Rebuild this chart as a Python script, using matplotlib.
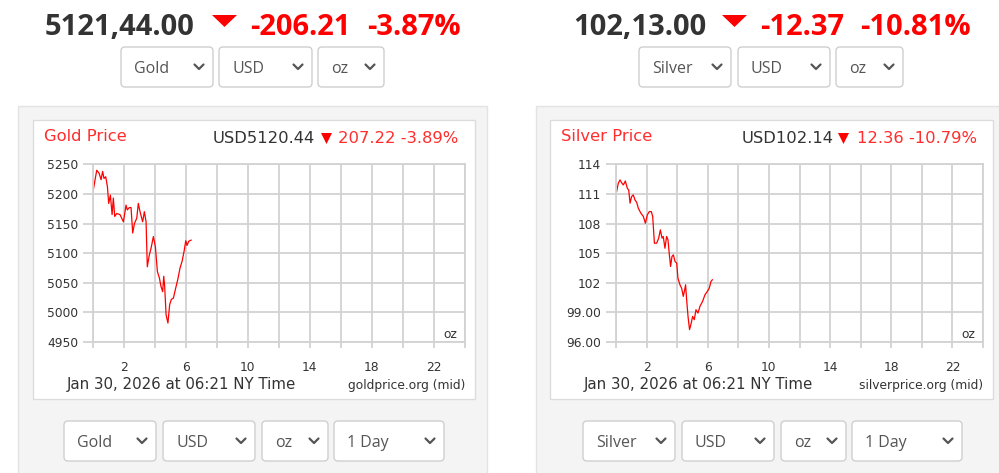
import numpy as np
import matplotlib.pyplot as plt
from matplotlib.patches import FancyBboxPatch, Rectangle, Polygon

W, H = 999, 473

# --- data (hours since midnight NY, price) ---
gold_hours = [0.04, 0.26, 0.41, 0.54, 0.64, 0.73, 0.84, 0.95, 1.03, 1.14, 1.25, 1.33,
              1.42, 1.55, 1.76, 1.98, 2.15, 2.23, 2.36, 2.47, 2.58, 2.69, 2.84, 2.94,
              3.05, 3.22, 3.33, 3.44, 3.52, 3.65, 3.76, 3.91, 4.04, 4.17, 4.30, 4.40,
              4.51, 4.58, 4.64, 4.73, 4.85, 4.96, 5.07, 5.20, 5.35, 5.48, 5.63, 5.76,
              5.89, 6.00, 6.08, 6.19, 6.34]
gold_price = [5207, 5240, 5235, 5224, 5238, 5226, 5229, 5212, 5184, 5198, 5165, 5193,
              5162, 5167, 5165, 5153, 5181, 5173, 5177, 5177, 5134, 5150, 5159, 5184,
              5170, 5153, 5170, 5153, 5077, 5097, 5108, 5128, 5111, 5069, 5058, 5044,
              5035, 5061, 5044, 4996, 4982, 5013, 5022, 5024, 5041, 5055, 5075, 5086,
              5103, 5121, 5113, 5120, 5122]

silver_hours = [0.04, 0.15, 0.26, 0.39, 0.48, 0.61, 0.74, 0.83, 0.92, 1.02, 1.13, 1.24,
                1.35, 1.46, 1.63, 1.79, 1.92, 2.05, 2.18, 2.31, 2.40, 2.51, 2.66, 2.79,
                2.90, 3.01, 3.09, 3.20, 3.31, 3.40, 3.49, 3.57, 3.66, 3.75, 3.86, 3.97,
                4.05, 4.18, 4.29, 4.40, 4.49, 4.55, 4.62, 4.71, 4.81, 4.92, 5.01, 5.12,
                5.23, 5.36, 5.49, 5.66, 5.82, 5.97, 6.10, 6.21, 6.30]
silver_price = [111.24, 112.08, 112.42, 112.08, 111.91, 112.31, 111.57, 111.40, 110.06,
                110.73, 110.90, 110.39, 110.16, 109.55, 109.04, 108.71, 108.03, 108.88,
                109.21, 109.21, 108.71, 106.01, 106.01, 106.52, 107.36, 106.52, 106.69,
                105.50, 106.69, 106.35, 104.83, 103.65, 104.66, 104.83, 104.16, 103.99,
                102.47, 101.80, 101.46, 100.62, 101.29, 101.80, 100.28, 98.59, 97.25,
                97.92, 98.59, 98.26, 99.27, 98.93, 99.61, 100.11, 100.79, 101.12, 101.46,
                102.13, 102.30]

gold_yticks = [4950, 5000, 5050, 5100, 5150, 5200, 5250]
gold_ylabels = ['4950', '5000', '5050', '5100', '5150', '5200', '5250']
silver_yticks = [96, 99, 102, 105, 108, 111, 114]
silver_ylabels = ['96.00', '99.00', '102', '105', '108', '111', '114']
hour_ticks = [0, 2, 4, 6, 8, 10, 12, 14, 16, 18, 20, 22, 24]
hour_labels = ['', '2', '', '6', '', '10', '', '14', '', '18', '', '22', '']

gold_head = ['5121,44.00', '-206.21', '-3.87%']
silver_head = ['102,13.00', '-12.37', '-10.81%']
gold_chart_head = ['Gold Price', 'USD5120.44', '207.22 -3.89%']
silver_chart_head = ['Silver Price', 'USD102.14', '12.36 -10.79%']
date_text = 'Jan 30, 2026 at 06:21 NY Time'
gold_source = 'goldprice.org (mid)'
silver_source = 'silverprice.org (mid)'
gold_top_menus = ['Gold', 'USD', 'oz']
silver_top_menus = ['Silver', 'USD', 'oz']
gold_bottom_menus = ['Gold', 'USD', 'oz', '1 Day']
silver_bottom_menus = ['Silver', 'USD', 'oz', '1 Day']

RED = '#ff0000'
RED_SOFT = '#ff2d2d'
DARK = '#333333'
GRID = '#d2d2d2'
SANS = ['Open Sans', 'DejaVu Sans']
CHART = ['DejaVu Sans']

fig = plt.figure(figsize=(W / 100, H / 100), dpi=100)
fig.patch.set_facecolor('white')
bg = fig.add_axes([0, 0, 1, 1])
bg.set_xlim(0, W)
bg.set_ylim(H, 0)
bg.axis('off')


def dropdown(x0, x1, y0, y1, label):
    box = FancyBboxPatch((x0, y0), x1 - x0, y1 - y0,
                         boxstyle='round,pad=0,rounding_size=4',
                         fc='white', ec='#cfcfcf', lw=1.0)
    bg.add_patch(box)
    cy = (y0 + y1) / 2
    bg.text(x0 + 13, cy + 6, label, fontsize=11.5, color='#555555',
            family=SANS, ha='left', va='baseline')
    cx = x1 - 14
    bg.plot([cx - 4.5, cx, cx + 4.5], [cy - 2.5, cy + 2, cy - 2.5],
            color='#555555', lw=1.6, solid_capstyle='round')


def header(xs, texts, tri):
    bg.text(xs[0], 35, texts[0], fontsize=21, fontweight='bold', color=DARK,
            family=SANS, ha='left', va='baseline')
    bg.text(xs[1], 35, texts[1], fontsize=21, fontweight='bold', color=RED,
            family=SANS, ha='left', va='baseline')
    bg.text(xs[2], 35, texts[2], fontsize=21, fontweight='bold', color=RED,
            family=SANS, ha='left', va='baseline')
    bg.add_patch(Polygon([(tri, 15), (tri + 25, 15), (tri + 12.5, 27)],
                         closed=True, fc=RED, ec='none'))


def chart(px0, px1, bx0, bx1, panel_x0, panel_x1, hours, price, yticks, ylabels,
          ylim, heads, head_xs, tri, source, src_x):
    # grey panel and white chart box
    bg.add_patch(Rectangle((panel_x0, 106), panel_x1 - panel_x0, 400,
                           fc='#f4f4f4', ec='#e3e3e3', lw=1.0))
    bg.add_patch(Rectangle((bx0, 120), bx1 - bx0, 279, fc='white',
                           ec='#dcdcdc', lw=1.0))
    bg.text(bx0 + 11, 141, heads[0], fontsize=11.8, color=RED_SOFT,
            family=CHART, ha='left', va='baseline')
    bg.text(head_xs[0], 143, heads[1], fontsize=11.8, color=DARK,
            family=CHART, ha='left', va='baseline')
    bg.add_patch(Polygon([(tri, 133), (tri + 11, 133), (tri + 5.5, 144)],
                         closed=True, fc=RED, ec='none'))
    bg.text(head_xs[1], 143, heads[2], fontsize=11.8, color=RED_SOFT,
            family=CHART, ha='left', va='baseline')
    bg.text(bx0 + 34, 388.5, date_text, fontsize=10.8, color=DARK,
            family=CHART, ha='left', va='baseline')
    bg.text(src_x, 389, source, fontsize=8.8, color=DARK,
            family=CHART, ha='right', va='baseline')
    bg.text(px1 - 8, 337.5, 'oz', fontsize=8.8, color=DARK,
            family=CHART, ha='right', va='baseline')

    top, bottom = 164.3, 342.0
    ax = fig.add_axes([px0 / W, (H - bottom) / H, (px1 - px0) / W, (bottom - top) / H])
    ax.plot(hours, price, color=RED, lw=0.9)
    ax.set_xlim(0, 24)
    ax.set_ylim(*ylim)
    ax.set_yticks(yticks)
    ax.set_yticklabels(ylabels)
    ax.set_xticks(hour_ticks)
    ax.set_xticklabels(hour_labels)
    ax.grid(True, color=GRID, lw=1.3)
    ax.set_axisbelow(True)
    for s in ax.spines.values():
        s.set_color(GRID)
        s.set_linewidth(1.3)
    ax.tick_params(axis='y', length=7, width=1.3, color=GRID, pad=3.5,
                   labelsize=8.8, labelcolor=DARK)
    ax.tick_params(axis='x', length=4.5, width=1.3, color=GRID, pad=9,
                   labelsize=8.8, labelcolor=DARK)
    for lab in ax.get_xticklabels() + ax.get_yticklabels():
        lab.set_family(CHART)
    ax.patch.set_alpha(0)
    return ax


# gold widget
header([45, 250, 367], gold_head, 212)
for (x0, x1), lab in zip([(121, 213), (219, 312), (318, 384)], gold_top_menus):
    dropdown(x0, x1, 47, 87, lab)
chart(92.7, 465, 33, 475, 18, 487, gold_hours, gold_price, gold_yticks,
      gold_ylabels, (4950, 5250), gold_chart_head, [213, 338], 321,
      gold_source, 465)
for (x0, x1), lab in zip([(64, 156), (163, 255), (262, 328), (334, 444)],
                         gold_bottom_menus):
    dropdown(x0, x1, 421, 461, lab)

# silver widget
header([573, 760, 860], silver_head, 722)
for (x0, x1), lab in zip([(639, 731), (738, 830), (836, 903)], silver_top_menus):
    dropdown(x0, x1, 47, 87, lab)
chart(616, 983, 550, 993, 536, 1010, silver_hours, silver_price, silver_yticks,
      silver_ylabels, (96, 114), silver_chart_head, [742, 857], 838,
      silver_source, 983)
for (x0, x1), lab in zip([(583, 675), (682, 774), (781, 846), (852, 962)],
                         silver_bottom_menus):
    dropdown(x0, x1, 421, 461, lab)

fig.savefig('out.png', dpi=100)
